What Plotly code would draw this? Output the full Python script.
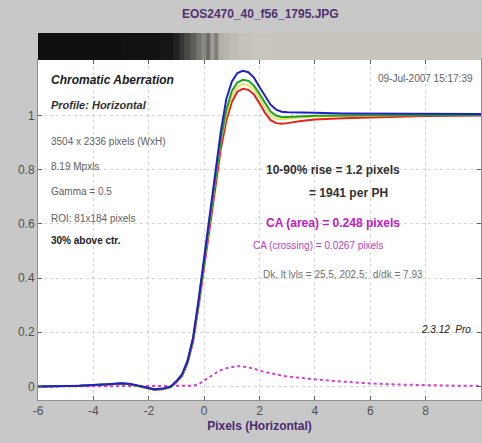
import plotly.graph_objects as go

# Edge profile samples (pixels from edge centre)
px = [-6, -5.5, -5, -4.5, -4, -3.5, -3, -2.7, -2.4, -2, -1.8, -1.5, -1.2, -1.0, -0.8,
      -0.6, -0.4, -0.2, 0, 0.2, 0.4, 0.6, 0.8, 1.0, 1.2, 1.4, 1.6, 1.8, 2.0, 2.2,
      2.4, 2.6, 2.8, 3.0, 3.5, 4, 5, 6, 7, 8, 9, 10]

blue = [0.0, 0.0, 0.002, 0.003, 0.005, 0.008, 0.012, 0.01, 0.004, -0.005, -0.01, -0.008,
        0.0, 0.02, 0.045, 0.095, 0.18, 0.32, 0.47, 0.63, 0.79, 0.94, 1.06, 1.125, 1.157,
        1.165, 1.16, 1.14, 1.105, 1.07, 1.04, 1.022, 1.014, 1.012, 1.01, 1.01, 1.008,
        1.008, 1.007, 1.007, 1.006, 1.006]
green = [0.0, 0.0, 0.002, 0.003, 0.005, 0.008, 0.011, 0.009, 0.003, -0.006, -0.011, -0.009,
         -0.001, 0.018, 0.042, 0.09, 0.175, 0.31, 0.46, 0.62, 0.77, 0.91, 1.02, 1.09, 1.122,
         1.132, 1.128, 1.11, 1.08, 1.045, 1.015, 1.0, 0.994, 0.995, 0.998, 0.999, 1.0,
         1.0, 1.001, 1.002, 1.002, 1.002]
yellow = [0.0, 0.0, 0.002, 0.003, 0.005, 0.008, 0.011, 0.009, 0.003, -0.006, -0.011, -0.009,
          -0.001, 0.018, 0.042, 0.09, 0.172, 0.305, 0.455, 0.61, 0.76, 0.9, 1.0, 1.07, 1.105,
          1.116, 1.112, 1.096, 1.066, 1.03, 1.0, 0.988, 0.985, 0.988, 0.993, 0.996, 0.998,
          0.999, 1.0, 1.001, 1.001, 1.001]
red = [0.0, 0.0, 0.002, 0.003, 0.004, 0.007, 0.01, 0.008, 0.002, -0.007, -0.012, -0.01,
       -0.002, 0.015, 0.038, 0.085, 0.165, 0.295, 0.44, 0.595, 0.74, 0.875, 0.98, 1.05, 1.088,
       1.099, 1.095, 1.078, 1.045, 1.01, 0.983, 0.972, 0.97, 0.972, 0.98, 0.985, 0.99,
       0.994, 0.996, 0.998, 0.999, 1.0]
ca_diff = [0.0, 0.0, 0.0, 0.001, 0.001, 0.002, 0.002, 0.002, 0.002, 0.001, 0.001, 0.001,
           0.002, 0.003, 0.003, 0.002, 0.003, 0.008, 0.02, 0.035, 0.048, 0.06, 0.067, 0.072,
           0.075, 0.074, 0.071, 0.066, 0.058, 0.053, 0.048, 0.044, 0.04, 0.037, 0.031,
           0.026, 0.018, 0.011, 0.007, 0.004, 0.003, 0.002]

# Grey levels of the edge image strip above the plot
strip_x = [-6, -4, -2, -1.2, -1.0, -0.8, -0.6, -0.4, -0.2, 0, 0.15, 0.3, 0.45, 0.6,
           0.8, 1.0, 1.5, 2.0, 3.0, 5, 8, 10]
strip_lvl = [16, 16, 18, 22, 35, 55, 75, 95, 118, 140, 110, 160, 130, 178,
             186, 192, 198, 202, 200, 200, 200, 200]

tick_vals_x = [-6, -4, -2, 0, 2, 4, 6, 8, 10]
tick_text_x = ['-6', '-4', '-2', '0', '2', '4', '6', '8', '10']
tick_vals_y = [0, 0.2, 0.4, 0.6, 0.8, 1]
tick_text_y = ['0', '0.2', '0.4', '0.6', '0.8', '1']

FONT = 'Arial, Liberation Sans, sans-serif'

fig = go.Figure()
fig.add_trace(go.Heatmap(x=strip_x, y=[0], z=[strip_lvl], xaxis='x', yaxis='y2',
                         colorscale=[[0, 'rgb(0,0,0)'], [1, 'rgb(255,250,240)']],
                         zmin=0, zmax=255, showscale=False, hoverinfo='skip'))
fig.add_trace(go.Scatter(x=px, y=ca_diff, mode='lines',
                         line=dict(color='#d040d0', width=2, dash='dot')))
fig.add_trace(go.Scatter(x=px, y=red, mode='lines', line=dict(color='#e82020', width=2)))
fig.add_trace(go.Scatter(x=px, y=yellow, mode='lines', line=dict(color='#e0e040', width=1.5)))
fig.add_trace(go.Scatter(x=px, y=green, mode='lines', line=dict(color='#20a020', width=2)))
fig.add_trace(go.Scatter(x=px, y=blue, mode='lines', line=dict(color='#2020c8', width=2)))

def note(x, y, text, size=10, color='#606060', bold=False, italic=False, anchor='left'):
    if bold:
        text = '<b>' + text + '</b>'
    if italic:
        text = '<i>' + text + '</i>'
    fig.add_annotation(x=x, y=y, xref='x', yref='y', text=text, showarrow=False,
                       xanchor=anchor, yanchor='middle',
                       font=dict(family=FONT, size=size, color=color))

note(-5.6, 1.132, 'Chromatic Aberration', 12, '#202020', bold=True, italic=True)
note(-5.6, 1.04, 'Profile: Horizontal', 11, '#303030', bold=True, italic=True)
note(-5.6, 0.904, '3504 x 2336 pixels (WxH)')
note(-5.6, 0.812, '8.19 Mpxls')
note(-5.6, 0.72, 'Gamma = 0.5')
note(-5.6, 0.621, 'ROI: 81x184 pixels')
note(-5.6, 0.537, '30% above ctr.', 10, '#202020', bold=True)
note(9.8, 1.136, '09-Jul-2007 15:17:39', 10, '#606060', anchor='right')
note(4.66, 0.798, '10-90% rise = 1.2 pixels', 12, '#303030', bold=True, anchor='center')
note(5.2, 0.713, '= 1941 per PH', 12, '#303030', bold=True, anchor='center')
note(4.66, 0.603, 'CA (area) = 0.248 pixels', 12, '#c020c0', bold=True, anchor='center')
note(4.1, 0.522, 'CA (crossing) = 0.0267 pixels', 10, '#c040c0', anchor='center')
note(5.0, 0.415, 'Dk, lt lvls = 25.5, 202.5;  d/dk = 7.93', 10, '#707070', anchor='center')
note(9.7, 0.21, '2.3.12  Pro', 10, '#202020', italic=True, anchor='right')

fig.update_layout(
    width=482, height=443,
    margin=dict(l=38, r=1, t=33, b=43),
    paper_bgcolor='#c8c8c8', plot_bgcolor='white',
    showlegend=False,
    font=dict(family=FONT, size=12, color='#505050'),
    title=dict(text='<b>EOS2470_40_f56_1795.JPG</b>', x=0.54, xanchor='center',
               y=0.968, yanchor='middle',
               font=dict(family=FONT, size=12, color='#503070')),
    xaxis=dict(range=[-6, 10], tickvals=tick_vals_x, ticktext=tick_text_x,
               ticks='inside', ticklen=4,
               tickcolor='#606060', showline=True, linecolor='#909090', mirror='ticks',
               showgrid=True, gridcolor='#d4d4d4', griddash='dot', zeroline=False,
               anchor='y', automargin=False,
               title=dict(text='<b>Pixels (Horizontal)</b>', standoff=4,
                          font=dict(family=FONT, size=12, color='#4a2a70'))),
    yaxis=dict(range=[-0.05, 1.205], domain=[0, 0.9264], tickvals=tick_vals_y,
               ticktext=tick_text_y, ticks='inside', ticklen=4, tickcolor='#606060',
               showline=True, linecolor='#909090', mirror='ticks', automargin=False,
               showgrid=True, gridcolor='#d4d4d4', griddash='dot', zeroline=False),
    yaxis2=dict(domain=[0.9264, 1], anchor='x', showticklabels=False, ticks='',
                showgrid=False, zeroline=False, range=[-0.5, 0.5]),
)

fig.write_html("out.html", config={'displayModeBar': False},
               post_script="document.body.style.margin='0';"
                           "document.body.style.background='#c8c8c8';")
